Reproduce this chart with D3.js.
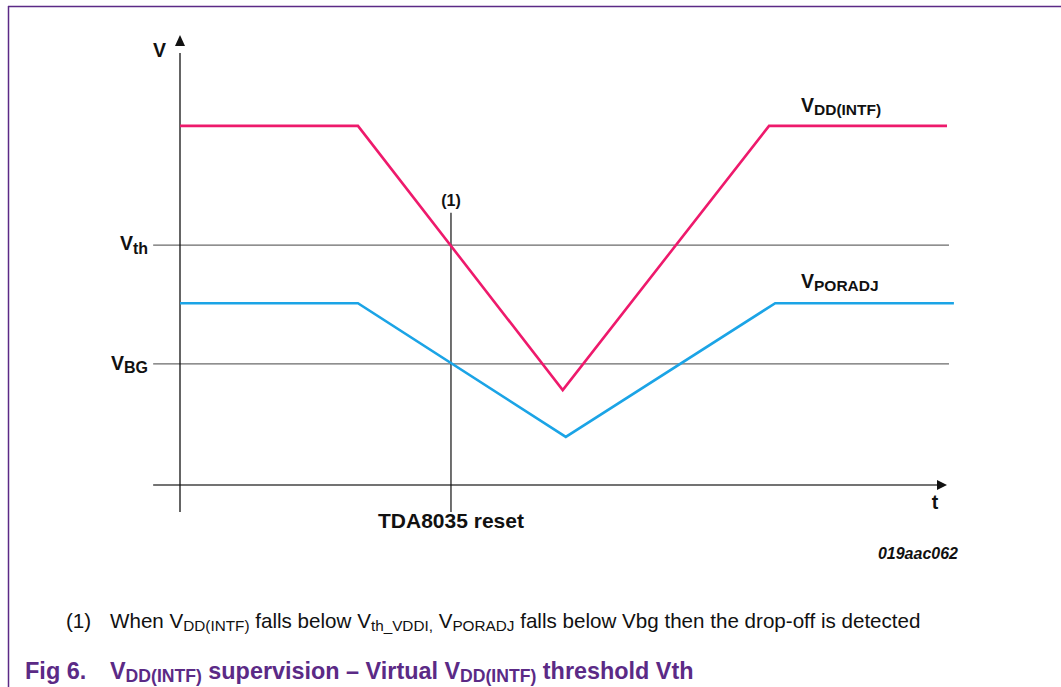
<!DOCTYPE html>
<html><head><meta charset="utf-8">
<script src="https://cdn.jsdelivr.net/npm/d3@7"></script>
<style>
html,body{margin:0;padding:0;background:#fff;}
svg{display:block;font-family:"Liberation Sans",Arial,sans-serif;}
</style></head>
<body>
<svg id="chart" width="1061" height="687"></svg>
<script>
// ---- data (time in arbitrary units 0..100, voltage in arbitrary units 0..10)
const vddTime   = [0, 23.2, 49.9, 76.8, 100];
const vddValue  = [7.98, 7.98, 2.11, 7.98, 7.98];
const porTime   = [0, 23.2, 50.3, 77.6, 100.9];
const porValue  = [4.04, 4.04, 1.07, 4.04, 4.04];
const refNames  = ["th", "BG"];
const refValues = [5.33, 2.69];
const resetTime = 35.33;
const resetLabel = "TDA8035 reset";
const seriesNames = ["DD(INTF)", "PORADJ"];

const svg = d3.select("#chart");
const x = d3.scaleLinear().domain([0, 100]).range([180, 947]);
const y = d3.scaleLinear().domain([0, 10]).range([485, 35]);
const purple = "#5b2a86";

// frame
svg.append("line").attr("x1", 8).attr("x2", 1061).attr("y1", 6.5).attr("y2", 6.5).attr("stroke", purple).attr("stroke-width", 1.5);
svg.append("line").attr("x1", 8.5).attr("x2", 8.5).attr("y1", 6).attr("y2", 687).attr("stroke", purple).attr("stroke-width", 1.5);

// reference lines
refValues.forEach(v => {
  svg.append("line").attr("x1", x(-3.5)).attr("x2", x(100.26))
    .attr("y1", y(v)).attr("y2", y(v)).attr("stroke", "#6a6a6a").attr("stroke-width", 1.3);
});

// x axis
svg.append("line").attr("x1", x(-3.5)).attr("x2", x(99)).attr("y1", y(0)).attr("y2", y(0))
  .attr("stroke", "#444").attr("stroke-width", 1.6);
svg.append("path").attr("d", `M${x(100)},${y(0)} L${x(100)-10},${y(0)-5} L${x(100)-10},${y(0)+5} Z`).attr("fill", "#111");

// y axis
svg.append("line").attr("x1", x(0)).attr("x2", x(0)).attr("y1", y(-0.6)).attr("y2", y(9.6))
  .attr("stroke", "#111").attr("stroke-width", 1.3);
svg.append("path").attr("d", `M${x(0)},${y(10)} L${x(0)-5},${y(10)+11} L${x(0)+5},${y(10)+11} Z`).attr("fill", "#111");

// reset marker
svg.append("line").attr("x1", x(resetTime)).attr("x2", x(resetTime)).attr("y1", y(6.05)).attr("y2", y(-0.6))
  .attr("stroke", "#111").attr("stroke-width", 1.2);

// series
const line = d3.line().x(d => x(d[0])).y(d => y(d[1]));
svg.append("path").datum(d3.zip(vddTime, vddValue)).attr("d", line)
  .attr("fill", "none").attr("stroke", "#ee1a6c").attr("stroke-width", 2.6).attr("stroke-linejoin", "miter");
svg.append("path").datum(d3.zip(porTime, porValue)).attr("d", line)
  .attr("fill", "none").attr("stroke", "#1ba4e6").attr("stroke-width", 2.6).attr("stroke-linejoin", "miter");

// helper for V + subscript labels
function vlabel(px, py, sub, anchor, big, small, dy) {
  const t = svg.append("text").attr("x", px).attr("y", py).attr("text-anchor", anchor)
    .attr("font-weight", "bold").attr("font-size", big).attr("fill", "#111");
  t.append("tspan").text("V");
  t.append("tspan").attr("font-size", small).attr("dy", dy).text(sub);
  return t;
}

svg.append("text").attr("x", 166).attr("y", 57).attr("text-anchor", "end")
  .attr("font-weight", "bold").attr("font-size", 19.5).attr("fill", "#111").text("V");
vlabel(148, 250, refNames[0], "end", 19.5, 16, 4);
vlabel(148, 370, refNames[1], "end", 19.5, 16, 3);
vlabel(801, 112, seriesNames[0], "start", 19.5, 15.5, 3);
vlabel(801, 288, seriesNames[1], "start", 19.5, 15.5, 3);

svg.append("text").attr("x", x(resetTime)).attr("y", 206).attr("text-anchor", "middle")
  .attr("font-weight", "bold").attr("font-size", 16).attr("fill", "#111").text("(1)");
svg.append("text").attr("x", 935).attr("y", 509).attr("text-anchor", "middle")
  .attr("font-weight", "bold").attr("font-size", 19.5).attr("fill", "#111").text("t");
svg.append("text").attr("x", x(resetTime)).attr("y", 528).attr("text-anchor", "middle")
  .attr("font-weight", "bold").attr("font-size", 21).attr("fill", "#111").text(resetLabel);
svg.append("text").attr("x", 958).attr("y", 559).attr("text-anchor", "end")
  .attr("font-weight", "bold").attr("font-style", "italic").attr("font-size", 16).attr("fill", "#111").text("019aac062");

// footnote
svg.append("text").attr("x", 66).attr("y", 628).attr("font-size", 20.6).attr("fill", "#111").text("(1)");
const fn = svg.append("text").attr("x", 110).attr("y", 628).attr("font-size", 20.6).attr("fill", "#111");
const fnParts = [["When V", null], ["DD(INTF)", "s"], [" falls below V", null], ["th_VDDI,", "s"], [" V", null], ["PORADJ", "s"], [" falls below Vbg then the drop-off is detected", null]];
fnParts.forEach(([txt, s], i) => {
  const ts = fn.append("tspan").text(txt);
  if (s) ts.attr("font-size", 15.3).attr("dy", 3);
  else if (i > 0) ts.attr("dy", -3);
});

// caption
svg.append("text").attr("x", 25).attr("y", 679).attr("font-size", 23.5).attr("font-weight", "bold").attr("fill", purple).text("Fig 6.");
const cap = svg.append("text").attr("x", 110).attr("y", 679).attr("font-size", 23.4).attr("font-weight", "bold").attr("fill", purple);
const capParts = [["V", null], ["DD(INTF)", "s"], [" supervision \u2013 Virtual V", null], ["DD(INTF)", "s"], [" threshold Vth", null]];
capParts.forEach(([txt, s], i) => {
  const ts = cap.append("tspan").text(txt);
  if (s) ts.attr("font-size", 17.6).attr("dy", 3);
  else if (i > 0) ts.attr("dy", -3);
});
</script>
</body></html>
